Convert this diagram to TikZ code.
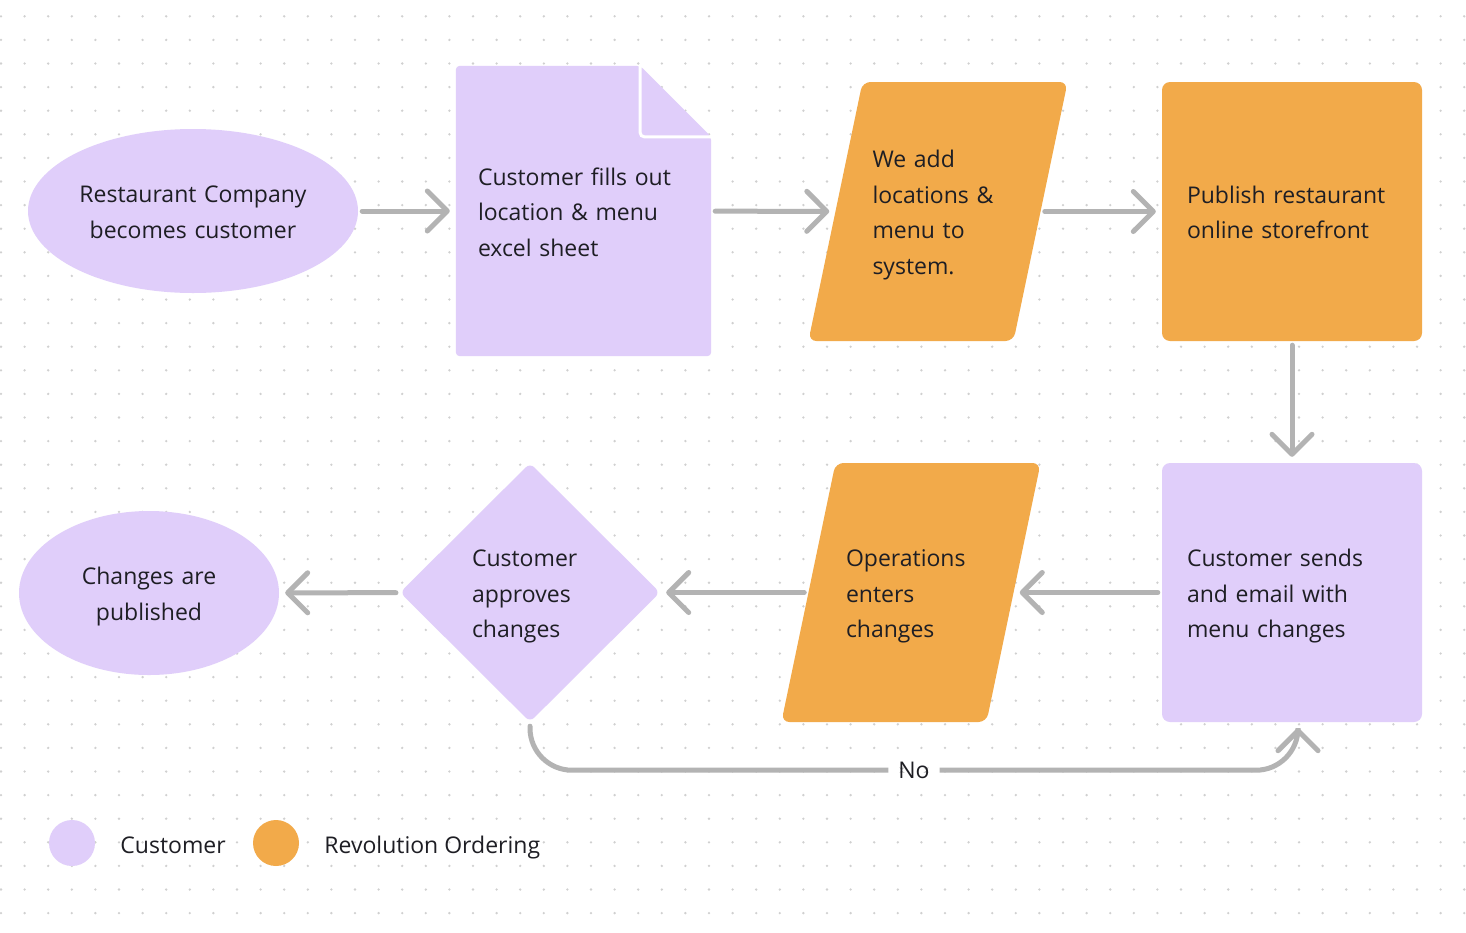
\documentclass[tikz,border=0pt]{standalone}
\usepackage{fontspec}
\setmainfont{Open Sans}
\usetikzlibrary{shapes.geometric, positioning, arrows.meta, calc, backgrounds}
\definecolor{RLav}{RGB}{224,206,250}
\definecolor{ROrange}{RGB}{242,170,74}
\definecolor{RGray}{RGB}{179,179,179}
\definecolor{RDot}{RGB}{208,208,208}
\definecolor{RInk}{RGB}{30,30,36}

\begin{document}
\begin{tikzpicture}[x=1pt, y=-1pt,
    every node/.style={font=\fontsize{23}{35.5}\selectfont, text=RInk},
    struts/.style={execute at begin node=\rule{0pt}{25pt},
                   execute at end node=\rule[-6pt]{0pt}{6pt}},
    term/.style={ellipse, fill=RLav, inner sep=0pt, align=center,
                 minimum height=164pt, struts},
    doc/.style={rectangle, inner sep=0pt, minimum width=255pt,
                minimum height=290pt, text width=211pt, align=left, struts},
    para/.style={trapezium, trapezium left angle=78.2,
                 trapezium right angle=101.8, fill=ROrange,
                 rounded corners=8pt, inner xsep=75.5pt, inner ysep=129.5pt},
    paratext/.style={inner sep=0pt, align=left, struts},
    proc/.style={rectangle, rounded corners=8pt, inner sep=0pt,
                 minimum width=260pt, minimum height=259pt,
                 text width=210pt, align=left, struts},
    dec/.style={diamond, fill=RLav, rounded corners=6pt, inner sep=0pt,
                minimum width=260pt, minimum height=259pt,
                text width=116pt, align=left, struts},
    flow/.style={draw=RGray, line width=5pt, line cap=round,
                 -{Straight Barb[length=20pt, width=40pt, line cap=round,
                   line join=round]},
                 shorten <=4pt, shorten >=6pt},
    legdot/.style={circle, minimum size=46pt, inner sep=0pt},
    legtext/.style={inner sep=0pt, text height=20pt, text depth=0pt}
  ]
  \useasboundingbox (0,0) rectangle (1466,932);

  % dotted canvas
  \begin{scope}[on background layer]
    \fill[white] (0,0) rectangle (1466,932);
    \fill[RDot] \foreach \i in {0,...,62} {
        \foreach \j in {0,...,39} { (1+23.6*\i, 16.3+23.6*\j) circle (1.3pt) }
      };
  \end{scope}

  % Top row
  \node[term, minimum width=330pt, text width=232pt] (start) at (193,211)
    {Restaurant Company\\becomes customer};
  \node[doc] (sheet) at (583.5,211)
    {Customer fills out\\location \& menu\\excel sheet};
  \begin{scope}[on background layer]
    \fill[RLav, rounded corners=4pt] (sheet.north west)
      -- ($(sheet.north east)+(-71pt,0pt)$)
      -- ($(sheet.north east)+(0pt,-71pt)$)
      -- (sheet.south east) -- (sheet.south west) -- cycle;
  \end{scope}
  \draw[white, line width=3pt, rounded corners=4pt]
    ($(sheet.north east)+(-71pt,1pt)$) -- ($(sheet.north east)+(-71pt,-71pt)$)
    -- ($(sheet.north east)+(1pt,-71pt)$);
  \node[para] (enter) at (938,211.5) {};
  \node[paratext, text width=131pt] (entertxt) at (enter)
    {We add\\locations \&\\menu to\\system.};
  \node[proc, fill=ROrange] (publish) at (1292,211.5)
    {Publish restaurant\\online storefront};

  % Bottom row
  \node[proc, fill=RLav] (mail) at (1292,592.5)
    {Customer sends\\and email with\\menu changes};
  \node[para] (ops) at (911,592.5) {};
  \node[paratext, text width=130pt] (opstxt) at (ops)
    {Operations\\enters\\changes};
  \node[dec] (approve) at (530,592.5)
    {Customer\\approves\\changes};
  \node[term, minimum width=260pt, text width=150pt] (done) at (149,593)
    {Changes are\\published};

  % Connectors
  \draw[flow] (start) -- (sheet);
  \draw[flow] (sheet) -- (enter);
  \draw[flow] (enter) -- (publish);
  \draw[flow] (publish) -- (mail);
  \draw[flow] (mail) -- (ops);
  \draw[flow] (ops) -- (approve);
  \draw[flow] (approve) -- (done);
  \draw[flow, rounded corners=42pt] (approve.south)
    |- node[pos=0.75, fill=white, inner xsep=10pt, inner ysep=3pt] {No}
    ($(mail.south)+(6pt,-48pt)$) -- ($(mail.south)+(6pt,0pt)$);

  % Legend
  \node[legdot, fill=RLav] (legcust) at (72,843) {};
  \node[legtext, right=25pt of legcust] (legcusttxt) {Customer};
  \node[legdot, fill=ROrange] (legrev) at (276,843) {};
  \node[legtext, right=25pt of legrev] (legrevtxt) {Revolution Ordering};
\end{tikzpicture}
\end{document}
